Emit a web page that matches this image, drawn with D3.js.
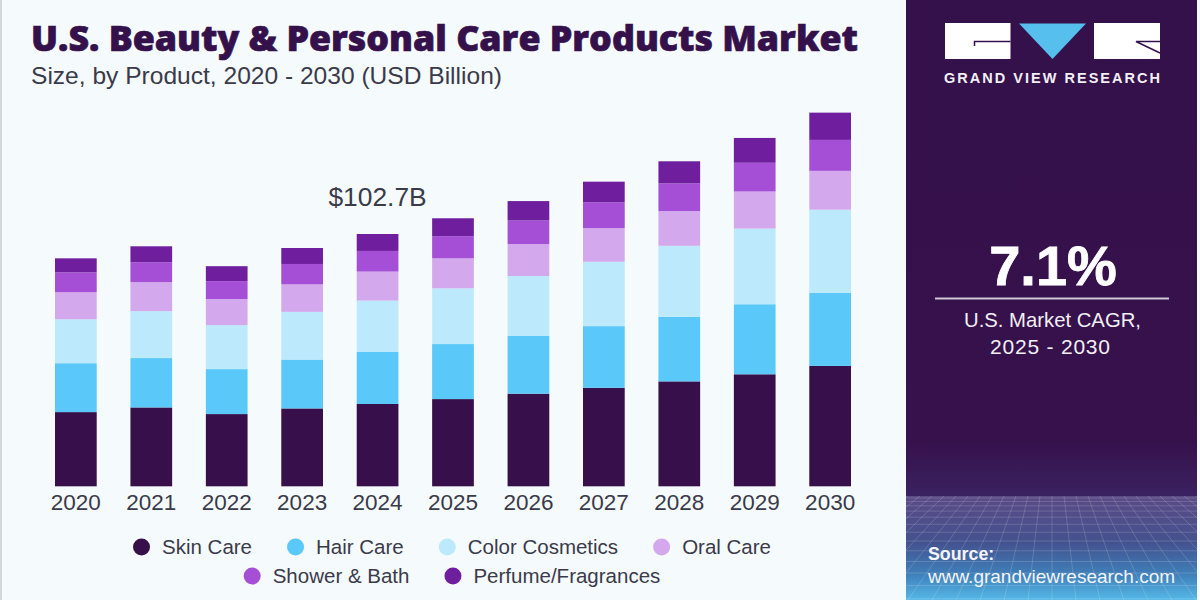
<!DOCTYPE html>
<html>
<head>
<meta charset="utf-8">
<script src="https://cdn.jsdelivr.net/npm/d3@7"></script>
<style>
  html, body { margin: 0; padding: 0; background: #f5fafd; }
  svg { display: block; }
  text { font-family: "Liberation Sans", Arial, sans-serif; }
</style>
</head>
<body>
<svg id="chart" width="1200" height="600"></svg>
<script>
const years = ['2020', '2021', '2022', '2023', '2024', '2025', '2026', '2027', '2028', '2029', '2030'];
const products = ['Skin Care', 'Hair Care', 'Color Cosmetics', 'Oral Care', 'Shower & Bath', 'Perfume/Fragrances'];
const colors = ['#370f4b', '#5ac8f8', '#bce9fb', '#d3a8ec', '#a44fd6', '#6f1f9e'];

const skinCare = [30.2, 32.1, 29.4, 31.7, 33.5, 35.5, 37.7, 40.1, 42.7, 45.6, 49.0];
const hairCare = [19.9, 20.1, 18.3, 19.9, 21.2, 22.4, 23.6, 25.1, 26.3, 28.5, 29.7];
const colorCosmetics = [17.9, 19.1, 17.9, 19.4, 20.9, 22.7, 24.3, 26.2, 28.9, 30.8, 33.9];
const oralCare = [11.0, 11.8, 10.6, 11.2, 11.8, 12.2, 13.0, 13.7, 14.1, 15.1, 15.8];
const showerBath = [8.1, 8.1, 7.3, 8.3, 8.4, 9.0, 9.6, 10.5, 11.3, 11.7, 12.6];
const perfume = [5.7, 6.5, 6.1, 6.5, 6.9, 7.3, 7.9, 8.4, 9.0, 10.1, 11.1];

const legendRows = [products.slice(0, 4), products.slice(4)];
const calloutYear = '2024';
const calloutLabel = '$102.7B';

const svg = d3.select('#chart');
const defs = svg.append('defs');
const textColor = '#3b3a4a';
const purple = '#35114b';

// page edge
svg.append('rect').attr('width', 1200).attr('height', 600).attr('fill', '#f5fafd');
svg.append('rect').attr('width', 2).attr('height', 600).attr('fill', '#d4d6d9');

// titles
svg.append('text').attr('x', 31).attr('y', 51)
  .attr('font-size', 35).attr('font-weight', 900).attr('fill', purple)
  .attr('stroke', purple).attr('stroke-width', 0.7)
  .style('font-family', '"Open Sans", "Liberation Sans", sans-serif')
  .attr('textLength', 827).attr('lengthAdjust', 'spacingAndGlyphs')
  .text('U.S. Beauty & Personal Care Products Market');
svg.append('text').attr('x', 31).attr('y', 84)
  .attr('font-size', 24.5).attr('fill', textColor)
  .attr('textLength', 471).attr('lengthAdjust', 'spacingAndGlyphs')
  .text('Size, by Product, 2020 - 2030 (USD Billion)');

// bars
const table = years.map((year, i) => ({
  year,
  'Skin Care': skinCare[i],
  'Hair Care': hairCare[i],
  'Color Cosmetics': colorCosmetics[i],
  'Oral Care': oralCare[i],
  'Shower & Bath': showerBath[i],
  'Perfume/Fragrances': perfume[i],
}));
const stacked = d3.stack().keys(products)(table);

const x = d3.scaleBand().domain(years).range([55, 851]).paddingInner(0.447).paddingOuter(0);
const y = d3.scaleLinear().domain([0, 102.7]).range([486.3, 234]);
const color = d3.scaleOrdinal().domain(products).range(colors);

svg.append('g').selectAll('g')
  .data(stacked)
  .enter()
  .append('g')
  .attr('fill', (d) => color(d.key))
  .selectAll('rect')
  .data((d) => d)
  .enter()
  .append('rect')
  .attr('x', (d) => x(d.data.year))
  .attr('y', (d) => y(d[1]))
  .attr('width', x.bandwidth())
  .attr('height', (d) => y(d[0]) - y(d[1]));

// x axis, labels only
const axis = svg.append('g')
  .attr('transform', 'translate(0,486.3)')
  .call(d3.axisBottom(x).tickSize(0).tickPadding(8));
axis.select('.domain').remove();
axis.selectAll('text')
  .attr('font-size', 22.5).attr('fill', textColor)
  .style('font-family', '"Liberation Sans", sans-serif');

// callout over the base year
const calloutTotal = d3.max(stacked, (s) => s[years.indexOf(calloutYear)][1]);
svg.append('text')
  .attr('x', x(calloutYear) + x.bandwidth() / 2)
  .attr('y', y(calloutTotal) - 28)
  .attr('text-anchor', 'middle')
  .attr('font-size', 26.4).attr('fill', textColor)
  .text(calloutLabel);

// legend, each row is flowed and centred
const legendCenter = 452;
const legendY = [547, 576];
const legendGap = 35;
legendRows.forEach((row, r) => {
  const g = svg.append('g');
  let cursor = 0;
  row.forEach((name) => {
    const item = g.append('g').attr('transform', `translate(${cursor},${legendY[r]})`);
    item.append('circle').attr('cx', 8.5).attr('cy', 0).attr('r', 8.5).attr('fill', color(name));
    const label = item.append('text').attr('x', 29).attr('y', 7)
      .attr('font-size', 20.5).attr('fill', textColor)
      .text(name);
    cursor += 29 + label.node().getComputedTextLength() + legendGap;
  });
  g.attr('transform', `translate(${legendCenter - (cursor - legendGap) / 2},0)`);
});

// right hand panel
const panelGrad = defs.append('linearGradient').attr('id', 'panel')
  .attr('x1', 0).attr('y1', 0).attr('x2', 0).attr('y2', 1);
panelGrad.append('stop').attr('offset', 0).attr('stop-color', purple);
panelGrad.append('stop').attr('offset', 0.885).attr('stop-color', '#36114c');
panelGrad.append('stop').attr('offset', 1).attr('stop-color', '#3a2260');
svg.append('rect').attr('x', 906).attr('y', 0).attr('width', 291).attr('height', 497).attr('fill', 'url(#panel)');

const gridGrad = defs.append('linearGradient').attr('id', 'floor')
  .attr('x1', 0).attr('y1', 0).attr('x2', 0).attr('y2', 1);
gridGrad.append('stop').attr('offset', 0).attr('stop-color', '#5b4a85');
gridGrad.append('stop').attr('offset', 0.45).attr('stop-color', '#43528f');
gridGrad.append('stop').attr('offset', 0.75).attr('stop-color', '#3f7fb9');
gridGrad.append('stop').attr('offset', 1).attr('stop-color', '#55b8e6');
svg.append('rect').attr('x', 906).attr('y', 496).attr('width', 291).attr('height', 104).attr('fill', 'url(#floor)');

// floor grid texture
defs.append('clipPath').attr('id', 'floorClip')
  .append('rect').attr('x', 906).attr('y', 496).attr('width', 291).attr('height', 104);
const floor = svg.append('g').attr('clip-path', 'url(#floorClip)')
  .attr('stroke', '#ffffff').attr('stroke-opacity', 0.16).attr('stroke-width', 1).attr('fill', 'none');
d3.range(-16, 17).forEach((k) => {
  floor.append('line').attr('x1', 1052 + k * 12).attr('y1', 496).attr('x2', 1052 + k * 24).attr('y2', 600);
});
d3.range(0, 13).forEach((k) => {
  const rowY = 498 + k * k * 0.45 + k * 3;
  floor.append('line').attr('x1', 906).attr('y1', rowY).attr('x2', 1197).attr('y2', rowY);
});

// logo
const logo = svg.append('g');
logo.append('rect').attr('x', 945).attr('y', 23).attr('width', 65.5).attr('height', 36).attr('fill', '#fff');
logo.append('rect').attr('x', 1094).attr('y', 23).attr('width', 66).attr('height', 36).attr('fill', '#fff');
logo.append('path').attr('d', 'M1019,23.5L1086,23.5L1052.5,59Z').attr('fill', '#56bfee');
logo.append('path').attr('d', 'M974.5,46V41.5H1010.5').attr('fill', 'none').attr('stroke', purple).attr('stroke-width', 1.5);
logo.append('path').attr('d', 'M1160,41.5H1136L1160,53').attr('fill', 'none').attr('stroke', purple).attr('stroke-width', 1.5);
svg.append('text').attr('x', 944).attr('y', 83)
  .attr('font-size', 14.5).attr('font-weight', 700).attr('fill', '#f2eff5')
  .attr('textLength', 216)
  .text('GRAND VIEW RESEARCH');

// cagr block
svg.append('text').attr('x', 1053).attr('y', 285)
  .attr('text-anchor', 'middle').attr('font-size', 56).attr('font-weight', 700).attr('fill', '#fff')
  .attr('stroke', '#fff').attr('stroke-width', 0.8)
  .text('7.1%');
svg.append('line').attr('x1', 935).attr('x2', 1169).attr('y1', 298.5).attr('y2', 298.5)
  .attr('stroke', '#cfc8d6').attr('stroke-width', 2);
svg.append('text').attr('x', 1052.5).attr('y', 327)
  .attr('text-anchor', 'middle').attr('font-size', 20.3).attr('fill', '#f2eff5')
  .text('U.S. Market CAGR,');
svg.append('text').attr('x', 990).attr('y', 354)
  .attr('font-size', 21).attr('fill', '#f2eff5')
  .attr('textLength', 120)
  .text('2025 - 2030');

// source
svg.append('text').attr('x', 928).attr('y', 560)
  .attr('font-size', 17.8).attr('font-weight', 700).attr('fill', '#f4f4fa')
  .text('Source:');
svg.append('text').attr('x', 928).attr('y', 583)
  .attr('font-size', 19).attr('fill', '#f4f4fa')
  .text('www.grandviewresearch.com');
</script>
</body>
</html>
